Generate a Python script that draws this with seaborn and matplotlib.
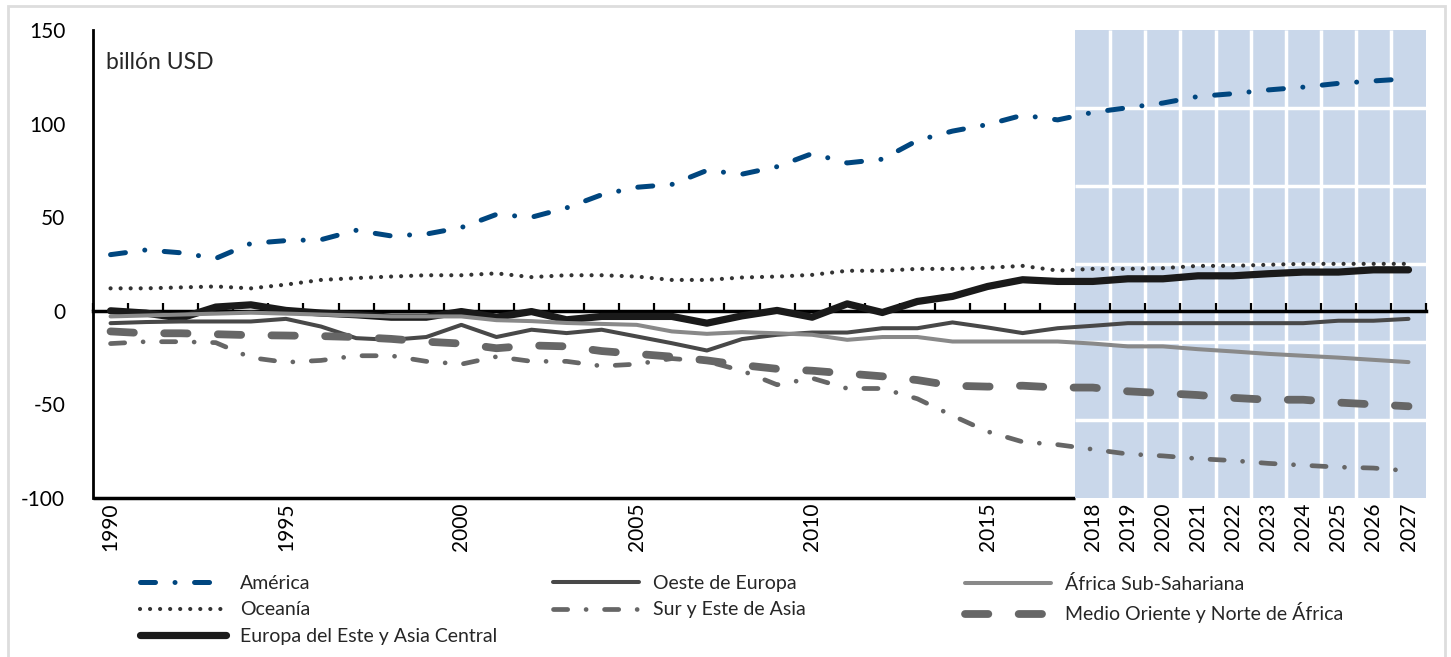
import numpy as np
import pandas as pd
import matplotlib
matplotlib.use("Agg")
import matplotlib.pyplot as plt
from matplotlib.patches import Rectangle
import seaborn as sns

# Data (billón USD)
years = list(range(1990, 2028))

america = [30, 32.5, 31, 28, 36, 37.5, 38, 43, 40, 41, 44.5, 51.5, 50, 55,
           62, 66, 67.5, 75, 73, 77, 84, 79, 81, 91, 96, 99.5, 104.5, 102,
           106, 108.5, 111, 114.5, 116, 118, 119.5, 121.5, 122.8, 124]
oceania = [12, 12, 12.5, 13, 12, 14, 16.5, 17.5, 18.3, 19, 19, 20, 18, 19,
           19, 18.3, 16.5, 16.5, 17.8, 18.3, 19.2, 21.4, 21.4, 22.4, 22.4, 23,
           24, 21.5, 22.4, 22.4, 22.8, 24, 24, 24.6, 25.1, 25.1, 25.1, 25.1]
europa_este = [0, -1.2, -3.9, 2, 3.2, 0.2, -1.2, -2.1, -3.4, -3.4, -0.4,
               -3.4, -0.4, -4.8, -3, -3, -3, -6.6, -2.7, 0.2, -3.4, 3.7,
               -0.9, 5, 7.7, 13, 16.6, 15.7, 15.7, 17.1, 17.1, 18.7, 18.7,
               19.8, 20.7, 20.7, 21.9, 21.9]
oeste_europa = [-6.6, -6, -5.7, -5.7, -5.7, -4.3, -8.4, -14.6, -15.5, -14,
                -7.5, -14, -10.1, -11.9, -10.1, -13.7, -17.3, -21.2, -15.1,
                -12.8, -11.6, -11.6, -9.3, -9.3, -6.2, -8.9, -11.9, -9.3,
                -8, -6.6, -6.6, -6.6, -6.6, -6.6, -6.6, -5.3, -5.3, -4.3]
africa_sub = [-3, -2.5, -2, -1.5, -1, -1.5, -2, -2.5, -3, -3, -3, -5, -5.5,
              -6.5, -7, -7.5, -11, -12.3, -11.4, -12, -12.8, -15.5, -14, -14,
              -16.4, -16.4, -16.4, -16.4, -17.5, -19, -19, -20.5, -21.7, -23,
              -24, -25, -26.2, -27.4]
sur_este_asia = [-17.5, -16.5, -16.5, -17, -25, -27.5, -26.5, -24, -24, -27,
                 -28.5, -24.5, -27, -27, -29.5, -28.5, -25.5, -27, -32, -39.5,
                 -36, -41.5, -41.5, -47, -56, -64.5, -70, -71.5, -74, -76.5,
                 -77.5, -79, -80, -81.5, -82.5, -83.5, -84, -85.5]
medio_oriente = [-11, -12, -12, -12.5, -13, -13.2, -13.5, -14, -15, -16.5,
                 -17.5, -20, -18.5, -19, -21.5, -23, -24.5, -26.5, -29, -31,
                 -32, -33.5, -35, -37, -40, -40.5, -40, -41, -41, -43, -44,
                 -45, -46.5, -47.5, -47.5, -49, -50, -51]

series_names = ["América", "Oceanía", "Europa del Este y Asia Central",
                "Oeste de Europa", "Sur y Este de Asia",
                "África Sub-Sahariana", "Medio Oriente y Norte de África"]
series_values = [america, oceania, europa_este, oeste_europa, sur_este_asia,
                 africa_sub, medio_oriente]

label_years = [1990, 1995, 2000, 2005, 2010, 2015] + list(range(2018, 2028))
forecast_start = 2018
y_ticks = [150, 100, 50, 0, -50, -100]

df = pd.DataFrame({"Año": years})
for name, vals in zip(series_names, series_values):
    df[name] = vals
long = df.melt(id_vars="Año", var_name="Región", value_name="Valor")

# styles: color, linewidth, linestyle
styles = {
    "América": ("#00467f", 3.6, (0, (3.0, 3.9, 0.01, 3.9))),
    "Oceanía": ("#333333", 3.0, (0, (0.01, 2.4))),
    "Europa del Este y Asia Central": ("#1a1a1a", 5.2, "-"),
    "Oeste de Europa": ("#484848", 2.9, "-"),
    "Sur y Este de Asia": ("#666666", 3.4, (0, (3.0, 3.9, 0.01, 3.9))),
    "África Sub-Sahariana": ("#898989", 2.9, "-"),
    "Medio Oriente y Norte de África": ("#666666", 5.6, (0, (3.0, 3.9))),
}

sns.set_style("white")
plt.rcParams["font.family"] = ["Lato", "DejaVu Sans"]

fig = plt.figure(figsize=(14.51, 6.57), dpi=100)
ax = fig.add_axes([0.0641, 0.242, 0.9187, 0.7123])

# forecast shading with white cell grid
x0, x1 = years[0] - 0.5, years[-1] + 0.5
ax.axvspan(forecast_start - 0.5, x1, color="#c9d7ea", lw=0, zorder=0.5)
ax.vlines(np.arange(forecast_start + 0.5, x1), -100, 150, color="white",
          lw=2.5, zorder=0.6)
ax.hlines(np.linspace(150, -100, 7)[1:-1], forecast_start - 0.5, x1,
          color="white", lw=2.5, zorder=0.6)

for name in series_names:
    color, lw, ls = styles[name]
    sns.lineplot(data=long[long["Región"] == name], x="Año", y="Valor",
                 ax=ax, color=color, linewidth=lw, linestyle=ls, label=name,
                 estimator=None, errorbar=None, legend=False,
                 dash_capstyle="round", solid_capstyle="round",
                 solid_joinstyle="round", zorder=3)

ax.set_xlim(x0, x1)
ax.set_ylim(-100, 150)
ax.set_xlabel("")
ax.set_ylabel("")

# axes frame
for s in ["top", "right", "bottom"]:
    ax.spines[s].set_visible(False)
ax.spines["left"].set_color("black")
ax.spines["left"].set_linewidth(2)
ax.hlines(-100, x0, forecast_start - 0.5, color="black", lw=2.5,
          zorder=0.4, clip_on=False)

ax.set_yticks(y_ticks)
ax.set_yticklabels([str(v) for v in y_ticks])
ax.tick_params(axis="y", direction="in", length=5, width=1.5, labelsize=15,
               pad=20, colors="black")
ax.set_xticks(label_years)
ax.set_xticklabels([str(y) for y in label_years], rotation=90)
ax.tick_params(axis="x", length=0, labelsize=15, pad=3, colors="black")
for t in ax.get_xticklabels():
    t.set_va("top")

# zero line with category tick marks
zero_frac = (0 - (-100)) / 250
sec = ax.secondary_xaxis(zero_frac)
sec.set_xticks(np.arange(x0, x1 + 0.01, 1.0))
sec.set_xticklabels([])
sec.tick_params(axis="x", direction="in", length=6, width=1.6, colors="black")
sec.spines["bottom"].set_linewidth(2.5)
sec.spines["bottom"].set_color("black")
sec.set_zorder(2)

ax.text(0.01, 0.93, "billón USD", transform=ax.transAxes, fontsize=16.5,
        ha="left", va="center")

# legends: three columns
handles = {l.get_label(): l for l in ax.get_lines() if l.get_label() in styles}
columns = [["América", "Oceanía", "Europa del Este y Asia Central"],
           ["Oeste de Europa", "Sur y Este de Asia"],
           ["África Sub-Sahariana", "Medio Oriente y Norte de África"]]
col_x = [140 / 1451, 553 / 1451, 965 / 1451]
for cx, col in zip(col_x, columns):
    leg = fig.legend([handles[n] for n in col], col, loc="upper left",
                     bbox_to_anchor=(cx, 1 - 575 / 657), frameon=False,
                     borderpad=0, borderaxespad=0, fontsize=14,
                     handlelength=4.4, handletextpad=0.75, labelspacing=0.48)

# outer light frame
fig.patches.append(Rectangle((8 / 1451, -0.01), 1437 / 1451, 1 - 6 / 657 + 0.01,
                             transform=fig.transFigure, fill=False,
                             edgecolor="#dddddd", lw=2))

fig.savefig("out.png", dpi=100)
